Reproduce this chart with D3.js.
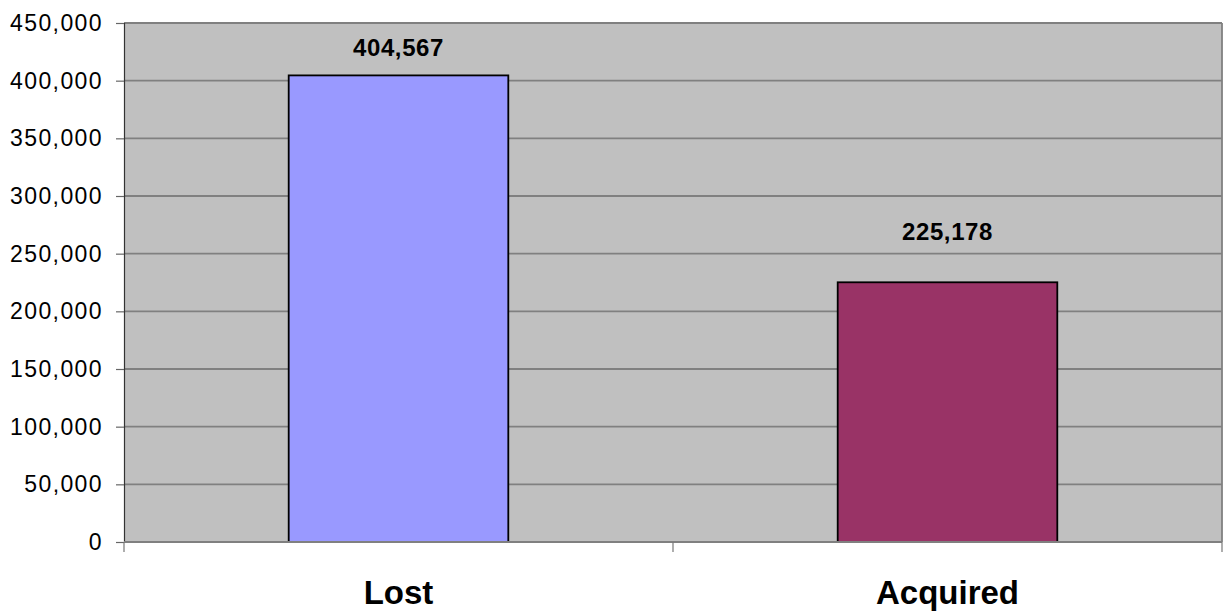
<!DOCTYPE html>
<html>
<head>
<meta charset="utf-8">
<script src="https://cdn.jsdelivr.net/npm/d3@7"></script>
<style>
  body { margin: 0; background: #fff; }
  text { font-family: "Liberation Sans", Arial, sans-serif; fill: #000; }
</style>
</head>
<body>
<div id="chart"></div>
<script>
// data
var categories = ["Lost", "Acquired"];
var values = [404567, 225178];
var barColors = ["#9999FF", "#993366"];
var yTicks = [0, 50000, 100000, 150000, 200000, 250000, 300000, 350000, 400000, 450000];

var pwidth = 1225;
var pheight = 614;
var margin = {top: 23, right: 3, bottom: 72, left: 124}
  , width = pwidth - margin.left - margin.right
  , height = pheight - margin.top - margin.bottom;

// gap between the value label baseline and the bar top (Excel put them unevenly)
var labelGap = [19, 42];

var xScale = d3.scaleBand()
  .domain(categories)
  .range([0, width])
  .paddingInner(0.6)
  .paddingOuter(0.3);

var yScale = d3.scaleLinear()
  .domain([0, 450000])
  .range([height, 0]);

var fmt = d3.format(",");

var svg = d3.select("#chart").append("svg")
  .attr("width", pwidth)
  .attr("height", pheight)
  .append("g")
  .attr("transform", "translate(" + margin.left + "," + margin.top + ")");

// plot background
svg.append("rect")
  .attr("x", 0).attr("y", 0)
  .attr("width", width).attr("height", height)
  .attr("fill", "#C0C0C0");

// gridlines
svg.selectAll(".grid")
  .data(yTicks)
  .enter().append("line")
  .attr("class", "grid")
  .attr("x1", 0).attr("x2", width)
  .attr("y1", function(d) { return yScale(d); })
  .attr("y2", function(d) { return yScale(d); })
  .attr("stroke", "#808080")
  .attr("stroke-width", 1.8);

// right border
svg.append("line")
  .attr("x1", width).attr("x2", width)
  .attr("y1", 0).attr("y2", height)
  .attr("stroke", "#808080")
  .attr("stroke-width", 1.8);

// bars
svg.selectAll(".bar")
  .data(values)
  .enter().append("rect")
  .attr("class", "bar")
  .attr("x", function(d, i) { return xScale(categories[i]); })
  .attr("y", function(d) { return yScale(d); })
  .attr("width", xScale.bandwidth())
  .attr("height", function(d) { return height - yScale(d); })
  .attr("fill", function(d, i) { return barColors[i]; })
  .attr("stroke", "#000")
  .attr("stroke-width", 1.8);

// value labels
svg.selectAll(".vlabel")
  .data(values)
  .enter().append("text")
  .attr("class", "vlabel")
  .attr("x", function(d, i) { return xScale(categories[i]) + xScale.bandwidth() / 2; })
  .attr("y", function(d, i) { return yScale(d) - labelGap[i]; })
  .attr("text-anchor", "middle")
  .style("font-size", "24px")
  .style("font-weight", "bold")
  .style("letter-spacing", "0.6px")
  .text(function(d) { return fmt(d); });

// y axis
var yAxis = svg.append("g")
  .attr("class", "y axis")
  .call(d3.axisLeft(yScale).tickValues(yTicks).tickFormat(fmt).tickSize(8).tickPadding(13));
yAxis.select(".domain").attr("stroke", "#333").attr("stroke-width", 1.2);
yAxis.selectAll(".tick line").attr("stroke", "#666").attr("stroke-width", 1.2);
yAxis.selectAll(".tick text")
  .style("font-size", "23px")
  .style("letter-spacing", "1.4px")
  .style("font-family", "'Liberation Sans', Arial, sans-serif")
  .attr("fill", "#111");

// x axis: baseline with ticks at the category boundaries
var xEdges = [0, width / 2, width];
svg.append("line")
  .attr("x1", 0).attr("x2", width)
  .attr("y1", height).attr("y2", height)
  .attr("stroke", "#808080")
  .attr("stroke-width", 1.8);
svg.selectAll(".xtick")
  .data(xEdges)
  .enter().append("line")
  .attr("class", "xtick")
  .attr("x1", function(d) { return d; })
  .attr("x2", function(d) { return d; })
  .attr("y1", height)
  .attr("y2", height + 10)
  .attr("stroke", "#777")
  .attr("stroke-width", 1.2);

// category labels
svg.selectAll(".xlabel")
  .data(categories)
  .enter().append("text")
  .attr("class", "xlabel")
  .attr("x", function(d) { return xScale(d) + xScale.bandwidth() / 2; })
  .attr("y", height + 62)
  .attr("text-anchor", "middle")
  .style("font-size", "33px")
  .style("font-weight", "bold")
  .text(function(d) { return d; });
</script>
</body>
</html>
